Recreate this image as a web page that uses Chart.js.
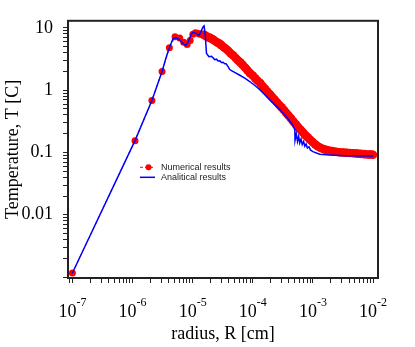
<!DOCTYPE html>
<html>
<head>
<meta charset="utf-8">
<script src="https://cdn.jsdelivr.net/npm/chart.js@4.4.1/dist/chart.umd.min.js"></script>
<style>
  html, body { margin: 0; padding: 0; background: #fff; }
</style>
</head>
<body>
<canvas id="chart" width="415" height="347"></canvas>
<script>
// Numerical results: radius R [cm] and temperature T [C]
const numR = [1e-7, 1.1e-6, 2.1e-6, 3.1e-6, 4.1e-6, 5.1e-6, 6.1e-6, 7.1e-6, 8.1e-6, 9.1e-6,
  1.01e-5, 1.11e-5, 1.21e-5, 1.31e-5, 1.41e-5, 1.51e-5, 1.61e-5, 1.71e-5, 1.81e-5, 1.91e-5,
  2.01e-5, 2.2e-5, 2.4e-5, 2.6e-5, 2.8e-5, 3.0e-5, 3.3e-5, 3.6e-5, 3.9e-5, 4.3e-5,
  4.7e-5, 5.2e-5, 5.7e-5, 6.2e-5, 6.8e-5, 7.5e-5, 8.2e-5, 9.0e-5, 1.0e-4, 1.1e-4,
  1.2e-4, 1.33e-4, 1.46e-4, 1.6e-4, 1.75e-4, 1.92e-4, 2.1e-4, 2.3e-4, 2.52e-4, 2.76e-4,
  3.02e-4, 3.3e-4, 3.62e-4, 3.96e-4, 4.34e-4, 4.75e-4, 5.2e-4, 5.7e-4, 6.25e-4, 6.85e-4,
  7.5e-4, 8.2e-4, 9.0e-4, 9.9e-4, 1.09e-3, 1.2e-3, 1.33e-3, 1.48e-3, 1.65e-3, 1.85e-3,
  2.1e-3, 2.4e-3, 2.75e-3, 3.15e-3, 3.6e-3, 4.15e-3, 4.8e-3, 5.5e-3, 6.3e-3, 7.2e-3,
  8.3e-3, 9.2e-3, 1e-2];
const numT = [0.00116, 0.155, 0.685, 2.0, 4.8, 7.2, 6.9, 5.9, 5.4, 6.3,
  7.9, 8.4, 8.2, 7.9, 8.0, 7.8, 7.6, 7.3, 7.1, 7.0,
  6.8, 6.5, 6.1, 5.8, 5.6, 5.3, 4.9, 4.6, 4.3, 3.9,
  3.65, 3.3, 3.0, 2.8, 2.55, 2.3, 2.08, 1.88, 1.72, 1.55,
  1.42, 1.3, 1.16, 1.05, 0.95, 0.86, 0.78, 0.71, 0.64, 0.58,
  0.53, 0.48, 0.43, 0.39, 0.35, 0.315, 0.283, 0.255, 0.232, 0.21,
  0.19, 0.175, 0.16, 0.147, 0.135, 0.126, 0.119, 0.114, 0.11, 0.107,
  0.105, 0.103, 0.101, 0.1, 0.099, 0.098, 0.097, 0.096, 0.095, 0.094,
  0.093, 0.093, 0.092];

// Analitical results
const anaR = [1e-7, 1.1e-6, 2.1e-6, 3.1e-6, 3.6e-6, 4.1e-6, 4.7e-6, 5.4e-6, 6.1e-6, 6.9e-6,
  7.7e-6, 8.4e-6, 9.5e-6, 1.02e-5, 1.16e-5, 1.28e-5, 1.35e-5, 1.49e-5, 1.55e-5, 1.62e-5,
  1.70e-5, 1.87e-5, 2.06e-5, 2.33e-5, 2.5e-5, 2.65e-5, 2.85e-5, 3.0e-5, 3.2e-5, 3.42e-5,
  3.6e-5, 3.89e-5, 4.14e-5, 4.5e-5, 5.0e-5, 6.08e-5, 7.5e-5, 8.9e-5, 1.1e-4, 1.31e-4,
  1.6e-4, 1.92e-4, 2.3e-4, 2.82e-4, 3.4e-4, 4.13e-4, 4.6e-4, 5.0e-4, 5.05e-4, 5.3e-4,
  5.55e-4, 5.8e-4, 6.05e-4, 6.35e-4, 6.65e-4, 7.0e-4, 7.35e-4, 7.7e-4, 8.1e-4, 8.6e-4,
  9.1e-4, 1.0e-3, 1.3e-3, 1.87e-3, 3.6e-3, 1e-2];
const anaT = [0.00116, 0.155, 0.685, 2.0, 3.3, 4.8, 6.7, 6.95, 6.4, 5.6,
  5.25, 5.9, 8.0, 8.5, 8.1, 7.6, 8.5, 10.4, 10.8, 7.8,
  3.9, 3.45, 3.5, 3.1, 3.15, 2.95, 2.98, 2.8, 2.82, 2.65,
  2.65, 2.4, 2.15, 2.05, 1.93, 1.74, 1.55, 1.38, 1.18, 1.02,
  0.84, 0.70, 0.59, 0.49, 0.40, 0.32, 0.275, 0.235, 0.157, 0.2,
  0.15, 0.182, 0.142, 0.165, 0.134, 0.15, 0.126, 0.137, 0.118, 0.124,
  0.11, 0.103, 0.094, 0.091, 0.0885, 0.0876];

const seriesNames = ['Numerical results', 'Analitical results'];
const xExponents = [-7, -6, -5, -4, -3, -2];
const yTickValues = [0.01, 0.1, 1, 10];
const yTickLabels = ['0.01', '0.1', '1', '10'];

const serif = 'Liberation Serif, Times New Roman, serif';
const sans = 'Liberation Sans, Arial, sans-serif';
const denseFrom = 1.5e-5; // where the numerical dots merge into a band

function toPoints(xs, ys) {
    return xs.map((x, i) => ({ x: x, y: ys[i] }));
}

// ticks 1..9 x 10^k inside the axis range
function logTicks(scale) {
    const ticks = [];
    for (let e = -9; e <= 2; e++) {
        for (let m = 1; m <= 9; m++) {
            const v = m * Math.pow(10, e);
            if (v >= scale.min && v <= scale.max) ticks.push({ value: v });
        }
    }
    scale.ticks = ticks;
}

// black frame round the plot
const framePlugin = {
    id: 'frame',
    afterDatasetsDraw(chart) {
        const a = chart.chartArea;
        const ctx = chart.ctx;
        ctx.save();
        ctx.strokeStyle = '#222';
        ctx.lineWidth = 2;
        ctx.strokeRect(a.left, a.top, a.right - a.left, a.bottom - a.top);
        ctx.restore();
    }
};

// 10^n labels under the x axis
const xLabelPlugin = {
    id: 'xLabels',
    afterDraw(chart) {
        const ctx = chart.ctx;
        const xs = chart.scales.x;
        const base = chart.chartArea.bottom + 39;
        ctx.save();
        ctx.fillStyle = '#000';
        ctx.textBaseline = 'alphabetic';
        ctx.textAlign = 'left';
        xExponents.forEach(e => {
            const px = xs.getPixelForValue(Math.pow(10, e));
            const exp = String(e);
            ctx.font = '18px ' + serif;
            const w10 = ctx.measureText('10').width;
            ctx.font = '12px ' + serif;
            const wExp = ctx.measureText(exp).width;
            const start = px - (w10 + wExp) / 2;
            ctx.font = '18px ' + serif;
            ctx.fillText('10', start, base);
            ctx.font = '12px ' + serif;
            ctx.fillText(exp, start + w10, base - 11);
        });
        ctx.restore();
    }
};

// legend inside the plot
const legendPlugin = {
    id: 'insideLegend',
    afterDraw(chart) {
        const ctx = chart.ctx;
        const a = chart.chartArea;
        const x0 = a.left + 72;
        const y0 = a.top + 146.5;
        const rowH = 10;
        ctx.save();
        // numerical
        ctx.strokeStyle = '#ff0000';
        ctx.lineWidth = 1;
        ctx.setLineDash([3, 2]);
        ctx.beginPath();
        ctx.moveTo(x0, y0);
        ctx.lineTo(x0 + 15, y0);
        ctx.stroke();
        ctx.setLineDash([]);
        ctx.fillStyle = '#ff0000';
        ctx.beginPath();
        ctx.arc(x0 + 8.5, y0, 3, 0, Math.PI * 2);
        ctx.fill();
        // analitical
        ctx.strokeStyle = '#0000ff';
        ctx.lineWidth = 1.5;
        ctx.beginPath();
        ctx.moveTo(x0, y0 + rowH);
        ctx.lineTo(x0 + 15, y0 + rowH);
        ctx.stroke();
        ctx.fillStyle = '#222';
        ctx.font = '9px ' + sans;
        ctx.textBaseline = 'middle';
        ctx.textAlign = 'left';
        ctx.fillText(seriesNames[0], x0 + 21, y0);
        ctx.fillText(seriesNames[1], x0 + 21, y0 + rowH);
        ctx.restore();
    }
};

const ctx = document.getElementById('chart').getContext('2d');
const chart = new Chart(ctx, {
    type: 'scatter',
    data: {
        datasets: [
            {
                label: seriesNames[1],
                data: toPoints(anaR, anaT),
                showLine: true,
                borderColor: '#0000ff',
                borderWidth: 1.5,
                pointRadius: 0,
                order: 0
            },
            {
                label: seriesNames[0],
                data: toPoints(numR, numT),
                showLine: true,
                borderColor: '#ff0000',
                backgroundColor: '#ff0000',
                borderWidth: 1,
                borderDash: [3, 3],
                pointRadius: c => c.parsed && c.parsed.x >= denseFrom ? 4.3 : 3.5,
                pointBorderWidth: 0,
                segment: {
                    borderWidth: c => c.p0.parsed.x >= denseFrom ? 8 : undefined,
                    borderDash: c => c.p0.parsed.x >= denseFrom ? [] : undefined
                },
                order: 1
            }
        ]
    },
    options: {
        responsive: false,
        animation: false,
        devicePixelRatio: 1,
        events: [],
        layout: { padding: { top: 17, right: 37, left: 0, bottom: 0 } },
        plugins: {
            legend: { display: false },
            tooltip: { enabled: false }
        },
        scales: {
            x: {
                type: 'logarithmic',
                min: Math.pow(10, -7.073),
                max: Math.pow(10, -1.917),
                afterBuildTicks: logTicks,
                afterFit: s => { s.height = 69; },
                grid: { drawOnChartArea: false, drawTicks: true, tickLength: 5, tickColor: '#222', tickWidth: 1 },
                border: { display: false },
                ticks: { display: false, autoSkip: false },
                title: {
                    display: true,
                    text: 'radius, R [cm]',
                    color: '#000',
                    font: { family: serif, size: 18 },
                    padding: { top: 0, bottom: 2 }
                }
            },
            y: {
                type: 'logarithmic',
                min: Math.pow(10, -3.016),
                max: Math.pow(10, 1.115),
                afterBuildTicks: logTicks,
                afterFit: s => { s.width = 68; },
                grid: { drawOnChartArea: false, drawTicks: true, tickLength: 5, tickColor: '#222', tickWidth: 1 },
                border: { display: false },
                ticks: {
                    autoSkip: false,
                    padding: 10,
                    color: '#000',
                    font: { family: serif, size: 18 },
                    callback: function (value) {
                        const i = yTickValues.findIndex(v => Math.abs(v - value) < v * 1e-6);
                        return i >= 0 ? yTickLabels[i] : '';
                    }
                },
                title: {
                    display: true,
                    text: 'Temperature, T [C]',
                    color: '#000',
                    font: { family: serif, size: 18 },
                    padding: { top: 2, bottom: 0 }
                }
            }
        }
    },
    plugins: [framePlugin, xLabelPlugin, legendPlugin]
});
</script>
</body>
</html>
